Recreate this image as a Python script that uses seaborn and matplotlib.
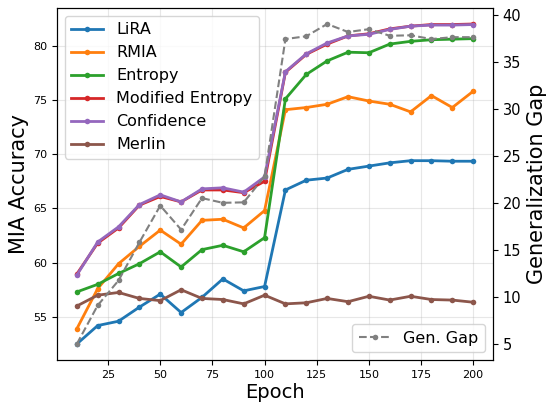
import matplotlib
matplotlib.use("Agg")
import matplotlib.pyplot as plt
import seaborn as sns
import pandas as pd

epochs = [10, 20, 30, 40, 50, 60, 70, 80, 90, 100,
          110, 120, 130, 140, 150, 160, 170, 180, 190, 200]

lira = [52.5, 54.2, 54.6, 55.9, 57.1, 55.4, 56.8, 58.5, 57.4, 57.8,
        66.7, 67.6, 67.8, 68.6, 68.9, 69.2, 69.4, 69.4, 69.35, 69.35]
rmia = [53.9, 57.6, 59.9, 61.5, 63.0, 61.7, 63.9, 64.0, 63.2, 64.8,
        74.1, 74.3, 74.6, 75.3, 74.9, 74.6, 73.9, 75.4, 74.3, 75.8]
entropy = [57.3, 58.0, 59.0, 59.9, 61.0, 59.6, 61.2, 61.6, 61.0, 62.3,
           75.1, 77.35, 78.6, 79.4, 79.35, 80.15, 80.4, 80.55, 80.6, 80.65]
mod_entropy = [58.95, 61.8, 63.2, 65.3, 66.1, 65.6, 66.7, 66.7, 66.45, 67.5,
               77.55, 79.2, 80.15, 80.9, 81.1, 81.55, 81.8, 81.95, 81.95, 82.0]
confidence = [58.85, 61.9, 63.3, 65.35, 66.25, 65.6, 66.8, 66.9, 66.5, 67.9,
              77.6, 79.25, 80.25, 80.9, 81.05, 81.5, 81.8, 81.9, 81.9, 81.95]
merlin = [56.0, 57.0, 57.25, 56.7, 56.5, 57.5, 56.7, 56.6, 56.2, 57.0,
          56.2, 56.3, 56.7, 56.4, 56.9, 56.55, 56.9, 56.6, 56.55, 56.35]
gen_gap = [5.0, 9.1, 11.75, 15.8, 19.7, 17.15, 20.5, 20.0, 20.05, 22.8,
           37.4, 37.7, 39.0, 38.15, 38.45, 37.75, 37.8, 37.4, 37.6, 37.6]

attacks = {
    "LiRA": lira,
    "RMIA": rmia,
    "Entropy": entropy,
    "Modified Entropy": mod_entropy,
    "Confidence": confidence,
    "Merlin": merlin,
}
colors = ["#1f77b4", "#ff7f0e", "#2ca02c", "#d62728", "#9467bd", "#8c564b"]

fig = plt.figure(figsize=(5.48, 4.03), dpi=100)
ax = fig.add_axes([57 / 548, 43 / 403, 436 / 548, 352 / 403])

for (name, vals), c in zip(attacks.items(), colors):
    sns.lineplot(x=epochs, y=vals, ax=ax, color=c, label=name, marker="o",
                 markersize=4, markeredgewidth=0, linewidth=2)

ax.set_xlabel("Epoch", fontsize=14, labelpad=2)
ax.set_ylabel("MIA Accuracy", fontsize=15, labelpad=3)
ax.tick_params(axis="both", labelsize=8)
ax.set_xticks([25, 50, 75, 100, 125, 150, 175, 200])
ax.set_yticks([55, 60, 65, 70, 75, 80])
ax.grid(True, alpha=0.3)
ax.legend(loc="upper left", fontsize=11.5, handlelength=2)
for s in ax.spines.values():
    s.set_color("black")

ax2 = ax.twinx()
sns.lineplot(x=epochs, y=gen_gap, ax=ax2, color="gray", linestyle="--",
             marker="o", markersize=4, markeredgewidth=0, linewidth=1.5,
             label="Gen. Gap")
ax2.set_ylabel("Generalization Gap", fontsize=15)
ax2.set_yticks([5, 10, 15, 20, 25, 30, 35, 40])
ax2.tick_params(axis="y", labelsize=10.5)
ax2.legend(loc="lower right", fontsize=11.5)

fig.savefig("out.png", dpi=100)
